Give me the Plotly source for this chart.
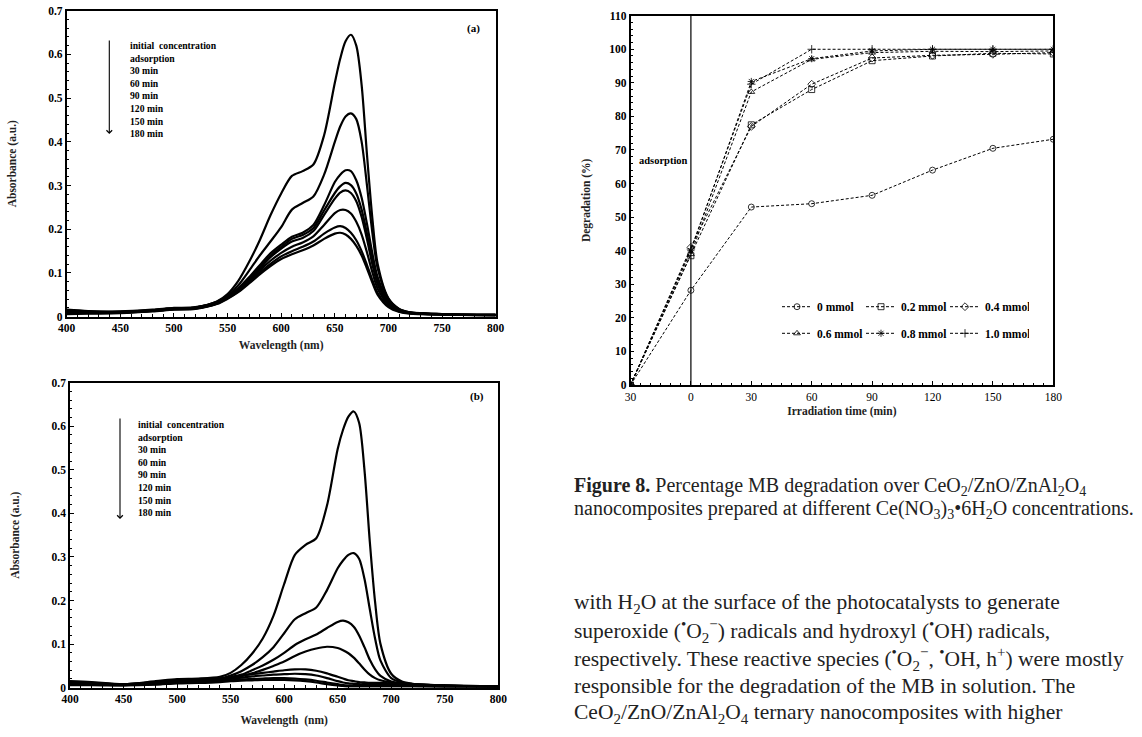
import plotly.graph_objects as go

W, H = 1142, 737
FONT = "Liberation Serif"

# ---------------- data ----------------
wavelength = [400, 420, 450, 480, 500, 520, 540, 550, 560, 570, 580, 590, 600, 610, 620, 630,
              640, 650, 655, 660, 665, 670, 675, 680, 685, 690, 700, 710, 720, 750, 800]

spectra_a = {
    "initial concentration": [0.016, 0.013, 0.012, 0.016, 0.020, 0.022, 0.035, 0.052, 0.082, 0.125, 0.175, 0.232, 0.282, 0.322, 0.333, 0.348, 0.415, 0.535, 0.590, 0.630, 0.645, 0.620, 0.530, 0.370, 0.225, 0.120, 0.042, 0.018, 0.010, 0.006, 0.004],
    "adsorption": [0.014, 0.012, 0.011, 0.015, 0.019, 0.021, 0.034, 0.048, 0.072, 0.105, 0.140, 0.172, 0.205, 0.245, 0.260, 0.275, 0.325, 0.400, 0.435, 0.458, 0.465, 0.452, 0.400, 0.300, 0.192, 0.110, 0.040, 0.017, 0.010, 0.006, 0.004],
    "30 min": [0.012, 0.011, 0.011, 0.015, 0.019, 0.021, 0.033, 0.046, 0.065, 0.090, 0.118, 0.145, 0.165, 0.183, 0.192, 0.210, 0.255, 0.308, 0.325, 0.335, 0.333, 0.312, 0.272, 0.212, 0.145, 0.090, 0.036, 0.016, 0.010, 0.006, 0.004],
    "60 min": [0.011, 0.010, 0.010, 0.014, 0.018, 0.020, 0.032, 0.045, 0.063, 0.087, 0.113, 0.140, 0.160, 0.178, 0.187, 0.203, 0.243, 0.283, 0.298, 0.306, 0.301, 0.282, 0.245, 0.190, 0.130, 0.080, 0.033, 0.015, 0.009, 0.005, 0.004],
    "90 min": [0.010, 0.010, 0.010, 0.014, 0.018, 0.020, 0.031, 0.044, 0.062, 0.085, 0.110, 0.136, 0.156, 0.172, 0.180, 0.196, 0.233, 0.270, 0.284, 0.289, 0.283, 0.264, 0.228, 0.177, 0.120, 0.074, 0.031, 0.014, 0.009, 0.005, 0.004],
    "120 min": [0.009, 0.009, 0.009, 0.013, 0.017, 0.019, 0.030, 0.043, 0.060, 0.082, 0.106, 0.128, 0.146, 0.160, 0.170, 0.184, 0.210, 0.237, 0.244, 0.244, 0.236, 0.217, 0.188, 0.147, 0.102, 0.064, 0.028, 0.013, 0.008, 0.005, 0.003],
    "150 min": [0.008, 0.008, 0.009, 0.013, 0.017, 0.019, 0.030, 0.042, 0.058, 0.079, 0.101, 0.121, 0.138, 0.150, 0.160, 0.172, 0.190, 0.204, 0.207, 0.203, 0.192, 0.175, 0.150, 0.118, 0.084, 0.054, 0.024, 0.012, 0.008, 0.005, 0.003],
    "180 min": [0.006, 0.007, 0.008, 0.012, 0.016, 0.018, 0.029, 0.041, 0.056, 0.076, 0.097, 0.116, 0.132, 0.143, 0.152, 0.163, 0.178, 0.190, 0.192, 0.188, 0.178, 0.162, 0.140, 0.110, 0.078, 0.050, 0.022, 0.011, 0.007, 0.005, 0.003],
}

spectra_b = {
    "initial concentration": [0.015, 0.013, 0.008, 0.015, 0.020, 0.021, 0.025, 0.034, 0.052, 0.078, 0.113, 0.165, 0.238, 0.305, 0.328, 0.343, 0.418, 0.548, 0.592, 0.622, 0.634, 0.608, 0.500, 0.335, 0.195, 0.100, 0.032, 0.014, 0.009, 0.005, 0.003],
    "adsorption": [0.013, 0.011, 0.008, 0.013, 0.017, 0.018, 0.021, 0.028, 0.038, 0.052, 0.070, 0.093, 0.125, 0.157, 0.171, 0.184, 0.224, 0.274, 0.292, 0.305, 0.309, 0.296, 0.250, 0.180, 0.112, 0.062, 0.022, 0.012, 0.008, 0.005, 0.003],
    "30 min": [0.012, 0.010, 0.008, 0.012, 0.015, 0.016, 0.019, 0.024, 0.030, 0.040, 0.051, 0.064, 0.080, 0.098, 0.111, 0.122, 0.137, 0.151, 0.154, 0.150, 0.140, 0.120, 0.093, 0.064, 0.042, 0.027, 0.014, 0.010, 0.008, 0.005, 0.003],
    "60 min": [0.011, 0.010, 0.007, 0.011, 0.014, 0.015, 0.018, 0.021, 0.026, 0.033, 0.041, 0.050, 0.060, 0.073, 0.083, 0.090, 0.094, 0.091, 0.086, 0.079, 0.069, 0.056, 0.042, 0.030, 0.022, 0.017, 0.012, 0.009, 0.007, 0.005, 0.003],
    "90 min": [0.010, 0.009, 0.007, 0.010, 0.013, 0.015, 0.021, 0.024, 0.028, 0.031, 0.034, 0.037, 0.040, 0.042, 0.042, 0.039, 0.033, 0.025, 0.021, 0.017, 0.015, 0.013, 0.012, 0.011, 0.011, 0.011, 0.010, 0.008, 0.007, 0.005, 0.003],
    "120 min": [0.009, 0.008, 0.006, 0.009, 0.012, 0.013, 0.017, 0.020, 0.023, 0.026, 0.028, 0.030, 0.031, 0.032, 0.031, 0.028, 0.022, 0.015, 0.012, 0.010, 0.009, 0.008, 0.008, 0.008, 0.008, 0.008, 0.008, 0.007, 0.006, 0.004, 0.003],
    "150 min": [0.008, 0.007, 0.006, 0.008, 0.011, 0.012, 0.015, 0.017, 0.019, 0.020, 0.021, 0.022, 0.022, 0.021, 0.019, 0.016, 0.012, 0.008, 0.006, 0.005, 0.005, 0.005, 0.005, 0.005, 0.005, 0.005, 0.005, 0.005, 0.004, 0.003, 0.002],
    "180 min": [0.006, 0.006, 0.005, 0.007, 0.010, 0.011, 0.013, 0.015, 0.016, 0.017, 0.018, 0.018, 0.018, 0.017, 0.015, 0.012, 0.008, 0.005, 0.004, 0.003, 0.003, 0.003, 0.003, 0.003, 0.003, 0.003, 0.003, 0.003, 0.003, 0.002, 0.002],
}

time_min = [-30, 0, 30, 60, 90, 120, 150, 180]
time_labels = ["30", "0", "30", "60", "90", "120", "150", "180"]

deg_0_0 = [0, 28.2, 53.0, 54.0, 56.5, 64.0, 70.5, 73.2]
deg_0_2 = [0, 38.5, 77.5, 88.0, 96.6, 98.0, 98.8, 98.6]
deg_0_4 = [0, 41.0, 77.0, 89.6, 97.4, 98.2, 98.5, 99.0]
deg_0_6 = [0, 39.0, 87.3, 97.0, 99.0, 99.4, 99.3, 99.5]
deg_0_8 = [0, 40.0, 90.4, 97.2, 99.5, 100.0, 100.0, 100.0]
deg_1_0 = [0, 40.5, 89.6, 100.0, 100.0, 100.0, 100.0, 100.0]

deg_series = [
    ("0 mmol", deg_0_0, "circle-open", "legend"),
    ("0.2 mmol", deg_0_2, "square-open", "legend"),
    ("0.4 mmol", deg_0_4, "diamond-open", "legend"),
    ("0.6 mmol", deg_0_6, "triangle-up-open", "legend2"),
    ("0.8 mmol", deg_0_8, "asterisk-open", "legend2"),
    ("1.0 mmol", deg_1_0, "cross-thin-open", "legend2"),
]

# ---------------- figure ----------------
fig = go.Figure()

def px(x):
    return x / W

def py(y):
    return 1 - y / H

for name, vals in spectra_a.items():
    fig.add_trace(go.Scatter(x=wavelength, y=vals, mode="lines", name=name, showlegend=False,
                             line=dict(color="black", width=2.2, shape="spline", smoothing=0.8),
                             xaxis="x", yaxis="y"))
for name, vals in spectra_b.items():
    fig.add_trace(go.Scatter(x=wavelength, y=vals, mode="lines", name=name, showlegend=False,
                             line=dict(color="black", width=2.2, shape="spline", smoothing=0.8),
                             xaxis="x2", yaxis="y2"))
for name, vals, sym, leg in deg_series:
    fig.add_trace(go.Scatter(x=time_min, y=vals, mode="lines+markers", name="<b>" + name + "</b>",
                             legend=leg,
                             line=dict(color="black", width=1, dash="3px,2px"),
                             marker=dict(symbol=sym, size=6, color="black",
                                         line=dict(color="black", width=0.8)),
                             xaxis="x3", yaxis="y3"))

tickfont = dict(family=FONT, size=11.5, color="black")
titlefont = dict(family=FONT, size=11.5, color="#222")
common_ax = dict(showline=True, linecolor="black", linewidth=1.6, mirror=True,
                 ticks="inside", ticklen=4, tickcolor="black", tickwidth=1,
                 showgrid=False, zeroline=False, automargin=False,
                 tickprefix="<b>", ticksuffix="</b>")

def spec_axes(xd, yd, xa, ya, xtitle, xstand):
    xaxis = dict(domain=xd, anchor=ya, range=[400, 800], dtick=50, tick0=400,
                 minor=dict(dtick=10, ticks="inside", ticklen=2.5, tickcolor="black"),
                 tickfont=tickfont,
                 title=dict(text="<b>" + xtitle + "</b>", font=titlefont, standoff=xstand), **common_ax)
    yaxis = dict(domain=yd, anchor=xa, range=[0, 0.7], dtick=0.1,
                 minor=dict(dtick=0.02, ticks="inside", ticklen=2.5, tickcolor="black"),
                 tickfont=tickfont,
                 title=dict(text="<b>Absorbance (a.u.)</b>", font=titlefont, standoff=29), **common_ax)
    return xaxis, yaxis

xa1, ya1 = spec_axes([px(66.7), px(495.7)], [py(316.7), py(10.7)], "x", "y", "Wavelength (nm)", 8)
xa2, ya2 = spec_axes([px(70), px(498.3)], [py(687.7), py(382.7)], "x2", "y2", "Wavelength  (nm)", 12)

f3 = dict(family=FONT, size=11.5, color="black")
xa3 = dict(domain=[px(630.5), px(1053.3)], anchor="y3", range=[-30, 180],
           tickvals=time_min, ticktext=time_labels,
           minor=dict(dtick=5, tick0=0, ticks="inside", ticklen=2.5, tickcolor="black"),
           tickfont=f3,
           title=dict(text="<b>Irradiation time (min)</b>", font=dict(family=FONT, size=11.5, color="#222"), standoff=5),
           **common_ax)
ya3 = dict(domain=[py(385), py(15.7)], anchor="x3", range=[0, 110], dtick=10,
           minor=dict(dtick=2, ticks="inside", ticklen=2.5, tickcolor="black"),
           tickfont=f3,
           title=dict(text="<b>Degradation (%)</b>", font=dict(family=FONT, size=11.5, color="#222"), standoff=16),
           **common_ax)

legend_common = dict(orientation="h", entrywidth=39, entrywidthmode="pixels",
                     font=dict(family=FONT, size=11.5, color="black"),
                     bgcolor="rgba(0,0,0,0)", borderwidth=0, itemwidth=30,
                     xanchor="left", yanchor="middle", tracegroupgap=0)

fig.update_layout(
    width=W, height=H, margin=dict(l=0, r=0, t=0, b=0, autoexpand=False),
    paper_bgcolor="white", plot_bgcolor="white",
    xaxis=xa1, yaxis=ya1, xaxis2=xa2, yaxis2=ya2, xaxis3=xa3, yaxis3=ya3,
    legend=dict(x=px(777), y=py(306.7), **legend_common),
    legend2=dict(x=px(777), y=py(333.3), **legend_common),
)

# vertical separator at t = 0
fig.add_shape(type="line", xref="x3", yref="y3 domain", x0=0, x1=0, y0=0, y1=1,
              line=dict(color="black", width=1.2))

ann = []
# adsorption label
ann.append(dict(xref="x3", yref="y3", x=-27, y=67, text="<b>adsorption</b>", showarrow=False,
                xanchor="left", font=dict(family=FONT, size=10.5, color="black")))

legend_lines = "<br>".join("<b>" + s + "</b>" for s in
                           ["initial  concentration", "adsorption", "30 min", "60 min",
                            "90 min", "120 min", "150 min", "180 min"])
for (ax_x, y_top, y_bot, tx, ty, lab, lx, ly) in [
        (109.3, 39, 134, 128, 37.5, "(a)", 473, 28.3),
        (120, 417, 519, 136.3, 416.5, "(b)", 476.7, 396.7)]:
    ann.append(dict(xref="paper", yref="paper", x=px(ax_x), y=py(y_bot),
                    axref="pixel", ayref="pixel", ax=0, ay=-(y_bot - y_top),
                    text="", showarrow=True,
                    arrowhead=4, arrowsize=1.0, arrowwidth=1.1, arrowcolor="black"))
    ann.append(dict(xref="paper", yref="paper", x=px(tx), y=py(ty), text=legend_lines,
                    showarrow=False, xanchor="left", yanchor="top", align="left",
                    font=dict(family=FONT, size=9.7, color="black")))
    ann.append(dict(xref="paper", yref="paper", x=px(lx), y=py(ly), text="<b>" + lab + "</b>",
                    showarrow=False, xanchor="center", yanchor="middle",
                    font=dict(family=FONT, size=11, color="black")))

# caption
cap_font = dict(family=FONT, size=20, color="#222")
ann.append(dict(xref="paper", yref="paper", x=px(572), y=py(486), xanchor="left", yanchor="middle",
                showarrow=False, font=cap_font,
                text="<b>Figure 8.</b> Percentage MB degradation over CeO<sub>2</sub>/ZnO/ZnAl<sub>2</sub>O<sub>4</sub>"))
ann.append(dict(xref="paper", yref="paper", x=px(572), y=py(510), xanchor="left", yanchor="middle",
                showarrow=False, font=cap_font,
                text="nanocomposites prepared at different Ce(NO<sub>3</sub>)<sub>3</sub>•6H<sub>2</sub>O concentrations."))

body_lines = [
    "with H<sub>2</sub>O at the surface of the photocatalysts to generate",
    "superoxide (<sup>•</sup>O<sub>2</sub><sup>−</sup>) radicals and hydroxyl (<sup>•</sup>OH) radicals,",
    "respectively. These reactive species (<sup>•</sup>O<sub>2</sub><sup>−</sup>, <sup>•</sup>OH, h<sup>+</sup>) were mostly",
    "responsible for the degradation of the MB in solution. The",
    "CeO<sub>2</sub>/ZnO/ZnAl<sub>2</sub>O<sub>4</sub> ternary nanocomposites with higher",
]
body_y = [603, 631, 658.5, 686, 713.5]
for t, yy in zip(body_lines, body_y):
    ann.append(dict(xref="paper", yref="paper", x=px(572), y=py(yy), xanchor="left", yanchor="middle",
                    showarrow=False, text=t, font=dict(family=FONT, size=21.5, color="#222")))

fig.update_layout(annotations=ann)
fig.write_html("out.html", post_script="document.body.style.margin='0';",
               config={"displayModeBar": False})
